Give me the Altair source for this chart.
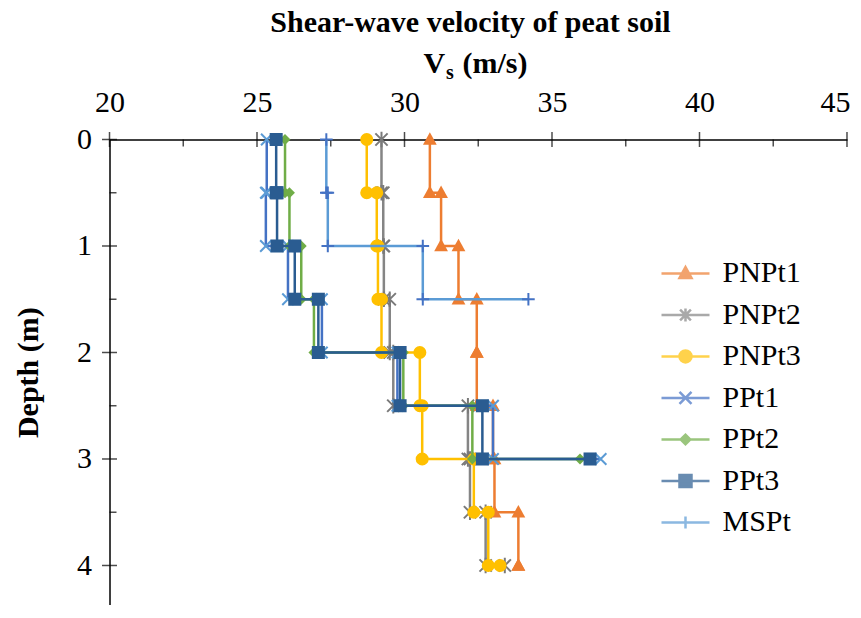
import altair as alt
import pandas as pd

# ---------------- data ----------------
series_names = ["PNPt1", "PNPt2", "PNPt3", "PPt1", "PPt2", "PPt3", "MSPt"]
layer_top_depths = [0.0, 0.5, 1.0, 1.5, 2.0, 2.5, 3.0, 3.5, 4.0]

vs_PNPt1 = [30.86, 31.24, 31.83, 32.45, 32.45, 33.00, 33.05, 33.86, 33.86]
vs_PNPt2 = [29.22, 29.28, 29.30, 29.50, 29.62, 32.15, 32.22, 32.75, 33.40]
vs_PNPt3 = [28.72, 29.06, 29.10, 29.22, 30.52, 30.60, 32.35, 32.84, 33.24]
vs_PPt1 = [25.33, 25.30, 26.05, 27.20, 29.76, 33.00, 36.65]
vs_PPt2 = [25.95, 26.10, 26.50, 26.93, 29.96, 32.30, 35.95]
vs_PPt3 = [25.65, 25.68, 26.28, 27.08, 29.85, 32.64, 36.29]
vs_MSPt = [27.35, 27.40, 30.62, 34.20]

series_values = [vs_PNPt1, vs_PNPt2, vs_PNPt3, vs_PPt1, vs_PPt2, vs_PPt3, vs_MSPt]

x_major = [20, 25, 30, 35, 40, 45]
x_minor = [22.5, 27.5, 32.5, 37.5, 42.5]
y_major = [0, 1, 2, 3, 4]
y_minor = [0.5, 1.5, 2.5, 3.5]

title_text = "Shear-wave velocity of peat soil"
x_title_main = "V"
x_title_sub = "s"
x_title_unit = "(m/s)"
y_title = "Depth (m)"

# ---------------- styles ----------------
line_colors = ["#ED7D31", "#858585", "#FFC000", "#4472C4", "#70AD47", "#2A5C91", "#5B9BD5"]
marker_colors = ["#ED7D31", "#7A7A7A", "#FFC000", "#5B9BD5", "#70AD47", "#2A5C91", "#4472C4"]
TRI = "M0,-1.05L1,0.75L-1,0.75Z"
AST = "M-1,-1L1,1M-1,1L1,-1M0,-1.25L0,1.25"
XX = "M-1,-1L1,1M-1,1L1,-1"
PLUS = "M-1,0L1,0M0,-1L0,1"
marker_shapes = [TRI, AST, "circle", XX, "diamond", "square", PLUS]
marker_filled = [True, False, True, False, True, True, False]
marker_sizes = [190, 150, 170, 130, 120, 170, 160]

LN = "M-4,0L4,0"
legend_shapes = [
    LN + "M0,-1.05L1,0.75L-1,0.75Z",
    LN + "M-0.9,-0.9L0.9,0.9M-0.9,0.9L0.9,-0.9M0,-1.1L0,1.1",
    LN + "M1,0A1,1,0,1,1,-1,0A1,1,0,1,1,1,0Z",
    LN + "M-1,-1L1,1M-1,1L1,-1",
    LN + "M-0.8,0L0,-0.8L0.8,0L0,0.8Z",
    LN + "M-1,-1L1,-1L1,1L-1,1Z",
    LN + "M0,-1L0,1",
]

FONT = "Liberation Serif"

rows = []
for name, vals in zip(series_names, series_values):
    k = 0
    for i, v in enumerate(vals):
        rows.append({"series": name, "v": v, "d": layer_top_depths[i], "ord": k})
        k += 1
        if i < len(vals) - 1:
            rows.append({"series": name, "v": v, "d": layer_top_depths[i + 1], "ord": k})
            k += 1
df = pd.DataFrame(rows)

Y_MAX = 4.37
PX_PER_M = 106.5

xs = alt.Scale(domain=[20, 45], nice=False, zero=False)
ys = alt.Scale(domain=[0, Y_MAX], nice=False, zero=False, reverse=True)
x_axis = alt.Axis(orient="top", values=x_major, ticks=False, grid=False, domainColor="black",
                  domainWidth=1.5, labelFont=FONT, labelFontSize=30, labelColor="black",
                  labelPadding=22, labelFlush=False, labelOverlap=False, format="d", title=None,
                  labelAlign={"condition": {"test": "datum.value == 45", "value": "right"},
                              "value": "center"},
                  labelOffset={"condition": {"test": "datum.value == 45", "value": 3},
                               "value": 0})
y_axis = alt.Axis(orient="left", values=y_major, ticks=False, grid=False, domainColor="black",
                  domainWidth=1.5, labelFont=FONT, labelFontSize=30, labelColor="black",
                  labelPadding=18, labelFlush=False, labelOverlap=False, format="d",
                  title=y_title, titleFont=FONT, titleFontSize=30, titleFontWeight="bold",
                  titleColor="black", titlePadding=33)
X = alt.X("v:Q", scale=xs, axis=x_axis)
Y = alt.Y("d:Q", scale=ys, axis=y_axis)

layers = []

# tick marks crossing / inside the axes
tick_xmaj = alt.Chart(pd.DataFrame({"v": x_major, "d": [0] * len(x_major)})).mark_tick(
    orient="vertical", size=15, thickness=1.5, color="black").encode(x=X, y=Y)
tick_xmin = alt.Chart(pd.DataFrame({"v": x_minor, "d": [0] * len(x_minor)})).mark_tick(
    orient="vertical", size=7, thickness=1.5, color="black", yOffset=3.5).encode(x=X, y=Y)
tick_ymaj = alt.Chart(pd.DataFrame({"v": [20] * len(y_major), "d": y_major})).mark_tick(
    orient="horizontal", size=15, thickness=1.5, color="black").encode(x=X, y=Y)
tick_ymin = alt.Chart(pd.DataFrame({"v": [20] * len(y_minor), "d": y_minor})).mark_tick(
    orient="horizontal", size=7, thickness=1.5, color="black", xOffset=3.5).encode(x=X, y=Y)
layers += [tick_xmaj, tick_xmin, tick_ymaj, tick_ymin]

for i, name in enumerate(series_names):
    base = alt.Chart(df).transform_filter(alt.datum.series == name)
    line = base.mark_line(color=line_colors[i], strokeWidth=2.5).encode(
        x=X, y=Y, order=alt.Order("ord:Q"))
    if marker_filled[i]:
        pts = base.mark_point(shape=marker_shapes[i], filled=True, size=marker_sizes[i],
                              color=marker_colors[i], opacity=1).encode(x=X, y=Y)
    else:
        pts = base.mark_point(shape=marker_shapes[i], filled=False, size=marker_sizes[i],
                              color=marker_colors[i], strokeWidth=2, opacity=1).encode(x=X, y=Y)
    layers += [line, pts]

# legend (entries from explicit scale domain; no drawn marks)
leg = alt.Legend(title=None, orient="none", legendX=561, legendY=119, labelFont=FONT,
                 labelFontSize=30, labelColor="black", labelOffset=22, rowPadding=11.5,
                 symbolSize=144, symbolStrokeWidth=2.5, padding=0, labelLimit=200)
legend_layer = alt.Chart(pd.DataFrame({"series": series_names})).transform_filter("false").mark_point(
    filled=True, size=144, strokeWidth=2.5).encode(
    color=alt.Color("series:N", scale=alt.Scale(domain=series_names, range=line_colors), legend=leg),
    stroke=alt.Stroke("series:N", scale=alt.Scale(domain=series_names, range=line_colors), legend=leg),
    shape=alt.Shape("series:N", scale=alt.Scale(domain=series_names, range=legend_shapes), legend=leg),
)
layers.append(legend_layer)

# titles as text
t_main = alt.Chart(pd.DataFrame({"t": [title_text]})).mark_text(
    font=FONT, fontSize=30, fontWeight="bold", color="black", align="center", baseline="alphabetic"
).encode(text="t:N", x=alt.value(361), y=alt.value(-107))
t_v = alt.Chart(pd.DataFrame({"t": [x_title_main]})).mark_text(
    font=FONT, fontSize=30, fontWeight="bold", color="black", align="left", baseline="alphabetic"
).encode(text="t:N", x=alt.value(314), y=alt.value(-66))
t_s = alt.Chart(pd.DataFrame({"t": [x_title_sub]})).mark_text(
    font=FONT, fontSize=20, fontWeight="bold", color="black", align="left", baseline="alphabetic"
).encode(text="t:N", x=alt.value(336.5), y=alt.value(-60))
t_u = alt.Chart(pd.DataFrame({"t": [x_title_unit]})).mark_text(
    font=FONT, fontSize=30, fontWeight="bold", color="black", align="left", baseline="alphabetic"
).encode(text="t:N", x=alt.value(353), y=alt.value(-66))
layers += [t_main, t_v, t_s, t_u]

chart = alt.layer(*layers).properties(
    width=737.5, height=Y_MAX * PX_PER_M,
    autosize=alt.AutoSizeParams(type="none"),
    padding={"left": 101.5, "top": 131.5, "right": 3, "bottom": 0},
    background="white",
).configure_view(stroke=None)

chart.save("out.html", embed_options={"renderer": "svg", "actions": False})
